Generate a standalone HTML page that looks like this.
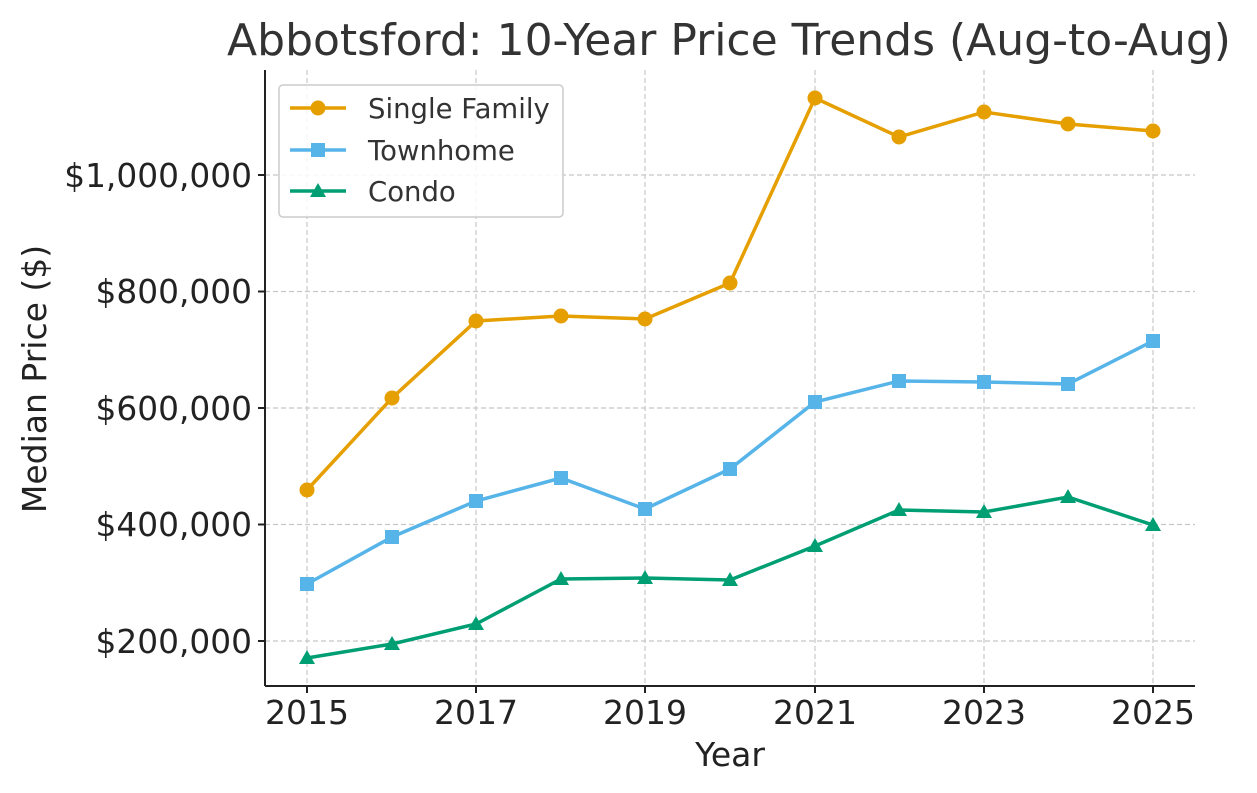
<!DOCTYPE html>
<html><head><meta charset="utf-8"><style>body{margin:0;background:#fff}svg{display:block}</style></head><body>
<svg width="1257" height="793" xmlns="http://www.w3.org/2000/svg" font-family="'DejaVu Sans', 'Liberation Sans', sans-serif">
<rect width="1257" height="793" fill="#fff"/>
<g stroke="#c8c8c8" stroke-width="1.2" stroke-dasharray="5,3">
<line x1="307" y1="70" x2="307" y2="686"/><line x1="476" y1="70" x2="476" y2="686"/><line x1="645" y1="70" x2="645" y2="686"/><line x1="815" y1="70" x2="815" y2="686"/><line x1="984" y1="70" x2="984" y2="686"/><line x1="1153" y1="70" x2="1153" y2="686"/>
<line x1="265" y1="641" x2="1195" y2="641"/><line x1="265" y1="524.5" x2="1195" y2="524.5"/><line x1="265" y1="408" x2="1195" y2="408"/><line x1="265" y1="291.5" x2="1195" y2="291.5"/><line x1="265" y1="175" x2="1195" y2="175"/>
</g>
<g stroke="#222" stroke-width="2"><line x1="265" y1="70" x2="265" y2="686"/><line x1="265" y1="686" x2="1195" y2="686"/>
<line x1="307" y1="686" x2="307" y2="693"/><line x1="476" y1="686" x2="476" y2="693"/><line x1="645" y1="686" x2="645" y2="693"/><line x1="815" y1="686" x2="815" y2="693"/><line x1="984" y1="686" x2="984" y2="693"/><line x1="1153" y1="686" x2="1153" y2="693"/>
<line x1="258" y1="641" x2="265" y2="641"/><line x1="258" y1="524.5" x2="265" y2="524.5"/><line x1="258" y1="408" x2="265" y2="408"/><line x1="258" y1="291.5" x2="265" y2="291.5"/><line x1="258" y1="175" x2="265" y2="175"/></g>
<g font-size="33" fill="#222" text-anchor="middle">
<text x="307" y="724">2015</text><text x="476" y="724">2017</text><text x="645" y="724">2019</text><text x="815" y="724">2021</text><text x="984" y="724">2023</text><text x="1153" y="724">2025</text>
<text x="730" y="766">Year</text>
<text x="729" y="55" font-size="44" fill="#333">Abbotsford: 10-Year Price Trends (Aug-to-Aug)</text>
</g>
<g font-size="32.8" fill="#222" text-anchor="end">
<text x="252" y="653">$200,000</text><text x="252" y="536">$400,000</text><text x="252" y="420">$600,000</text><text x="252" y="303">$800,000</text><text x="252" y="187">$1,000,000</text></g>
<text transform="translate(46,379) rotate(-90)" font-size="33" fill="#222" text-anchor="middle">Median Price ($)</text>
<polyline fill="none" stroke="#E69F00" stroke-width="3.5" points="307,490 392,398 476,321 561,316 645,319 730,283 815,98 899,137 984,112 1068,124 1153,131"/>
<g fill="#E69F00"><circle cx="307" cy="490" r="7.5"/><circle cx="392" cy="398" r="7.5"/><circle cx="476" cy="321" r="7.5"/><circle cx="561" cy="316" r="7.5"/><circle cx="645" cy="319" r="7.5"/><circle cx="730" cy="283" r="7.5"/><circle cx="815" cy="98" r="7.5"/><circle cx="899" cy="137" r="7.5"/><circle cx="984" cy="112" r="7.5"/><circle cx="1068" cy="124" r="7.5"/><circle cx="1153" cy="131" r="7.5"/></g>
<polyline fill="none" stroke="#56B4E9" stroke-width="3.5" points="307,584 392,537 476,501 561,478 645,509 730,469 815,402 899,381 984,382 1068,384 1153,341"/>
<g fill="#56B4E9"><rect x="300" y="577" width="14" height="14"/><rect x="385" y="530" width="14" height="14"/><rect x="469" y="494" width="14" height="14"/><rect x="554" y="471" width="14" height="14"/><rect x="638" y="502" width="14" height="14"/><rect x="723" y="462" width="14" height="14"/><rect x="808" y="395" width="14" height="14"/><rect x="892" y="374" width="14" height="14"/><rect x="977" y="375" width="14" height="14"/><rect x="1061" y="377" width="14" height="14"/><rect x="1146" y="334" width="14" height="14"/></g>
<polyline fill="none" stroke="#009E73" stroke-width="3.5" points="307,658 392,644 476,624 561,579 645,578 730,580 815,546 899,510 984,512 1068,497 1153,525"/>
<g fill="#009E73">
<polygon points="307,650 315,664 299,664"/><polygon points="392,636 400,650 384,650"/><polygon points="476,616 484,630 468,630"/><polygon points="561,571 569,585 553,585"/><polygon points="645,570 653,584 637,584"/><polygon points="730,572 738,586 722,586"/><polygon points="815,538 823,552 807,552"/><polygon points="899,502 907,516 891,516"/><polygon points="984,504 992,518 976,518"/><polygon points="1068,489 1076,503 1060,503"/><polygon points="1153,517 1161,531 1145,531"/></g>
<rect x="279" y="85" width="284" height="132" rx="4" fill="#fff" fill-opacity="0.85" stroke="#ccc" stroke-width="1.5"/>
<line x1="290" y1="108" x2="346" y2="108" stroke="#E69F00" stroke-width="3.5"/><circle cx="318" cy="108" r="7.5" fill="#E69F00"/>
<line x1="290" y1="150" x2="346" y2="150" stroke="#56B4E9" stroke-width="3.5"/><rect x="311" y="143" width="14" height="14" fill="#56B4E9"/>
<line x1="290" y1="191" x2="346" y2="191" stroke="#009E73" stroke-width="3.5"/><polygon points="318,183 326,197 310,197" fill="#009E73"/>
<g font-size="27.5" fill="#333"><text x="368" y="118">Single Family</text><text x="368" y="160">Townhome</text><text x="368" y="201">Condo</text></g>
</svg>
</body></html>
